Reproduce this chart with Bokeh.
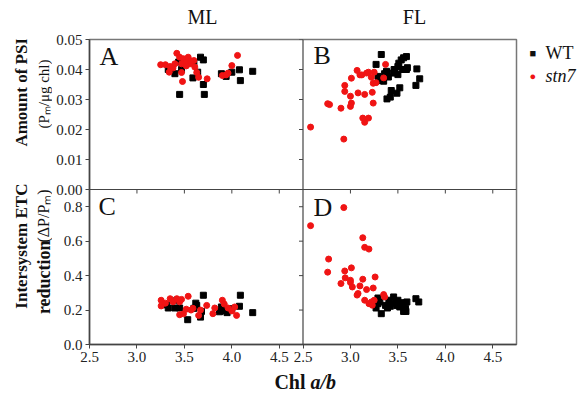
import math
from bokeh.plotting import figure
from bokeh.layouts import column, row
from bokeh.models import Range1d, LinearAxis, FixedTicker, Span, Label
from bokeh.embed import file_html
from bokeh.resources import INLINE

# ---------------- data ----------------
A_wt_chl = [3.33, 3.40, 3.45, 3.44, 3.48, 3.47, 3.59, 3.64, 3.60, 3.67, 3.70, 3.70, 3.71, 3.89, 3.94, 4.00, 4.08, 4.09, 4.22]
A_wt_psi = [0.0400, 0.0386, 0.0317, 0.0425, 0.0418, 0.0400, 0.0372, 0.0391, 0.0424, 0.0441, 0.0432, 0.0350, 0.0317, 0.0386, 0.0377, 0.0391, 0.0399, 0.0363, 0.0394]
A_st_chl = [3.25, 3.30, 3.35, 3.34, 3.42, 3.45, 3.40, 3.47, 3.49, 3.52, 3.54, 3.56, 3.48, 3.47, 3.60, 3.61, 3.63, 3.65, 3.74, 3.90, 3.94, 3.96, 4.00, 4.06, 3.38, 3.57, 3.52]
A_st_psi = [0.0416, 0.0416, 0.0410, 0.0391, 0.0454, 0.0441, 0.0419, 0.0419, 0.0436, 0.0424, 0.0441, 0.0419, 0.0360, 0.0390, 0.0430, 0.0408, 0.0390, 0.0374, 0.0369, 0.0380, 0.0382, 0.0388, 0.0413, 0.0447, 0.0405, 0.0428, 0.0412]

B_wt_chl = [3.325, 3.27, 3.29, 3.31, 3.35, 3.36, 3.38, 3.385, 3.42, 3.43, 3.45, 3.46, 3.49, 3.50, 3.52, 3.50, 3.51, 3.535, 3.55, 3.56, 3.59, 3.59, 3.60, 3.69, 3.70, 3.73, 3.40, 3.47]
B_wt_psi = [0.0450, 0.0417, 0.0377, 0.0363, 0.0361, 0.0386, 0.0394, 0.0302, 0.0308, 0.0330, 0.0388, 0.0400, 0.0321, 0.0383, 0.0339, 0.0410, 0.0421, 0.0432, 0.0400, 0.0439, 0.0443, 0.0400, 0.0406, 0.0347, 0.0402, 0.0369, 0.0375, 0.0395]
B_st_chl = [2.58, 2.76, 2.78, 2.90, 2.93, 2.94, 2.94, 3.00, 3.01, 3.00, 3.01, 3.07, 3.08, 3.10, 3.12, 3.13, 3.15, 3.15, 3.17, 3.19, 3.19, 3.22, 3.23, 3.24, 3.24, 3.25, 3.27, 3.35, 3.37]
B_st_psi = [0.0208, 0.0286, 0.0283, 0.0271, 0.0168, 0.0347, 0.0327, 0.0311, 0.0288, 0.0277, 0.0371, 0.0397, 0.0322, 0.0382, 0.0382, 0.0238, 0.0224, 0.0317, 0.0388, 0.0238, 0.0391, 0.0374, 0.0324, 0.0288, 0.0354, 0.0391, 0.0356, 0.0372, 0.0417]

C_wt_chl = [3.70, 4.09, 4.22, 4.08, 4.00, 3.95, 3.92, 3.89, 3.87, 3.535, 3.67, 3.68, 3.63, 3.60, 3.62, 3.42, 3.40, 3.33, 3.31, 3.45]
C_wt_etc = [0.286, 0.286, 0.185, 0.222, 0.208, 0.185, 0.195, 0.218, 0.190, 0.144, 0.159, 0.192, 0.227, 0.210, 0.240, 0.257, 0.212, 0.212, 0.230, 0.212]
C_st_chl = [3.255, 3.255, 3.30, 3.35, 3.38, 3.42, 3.45, 3.47, 3.54, 3.45, 3.49, 3.52, 3.57, 3.59, 3.65, 3.67, 3.735, 3.80, 3.82, 3.90, 3.92, 3.96, 4.00, 4.05, 4.03]
C_st_etc = [0.257, 0.224, 0.240, 0.266, 0.248, 0.266, 0.248, 0.262, 0.280, 0.173, 0.178, 0.205, 0.200, 0.210, 0.169, 0.200, 0.227, 0.179, 0.212, 0.257, 0.235, 0.212, 0.195, 0.169, 0.218]

D_wt_chl = [3.29, 3.29, 3.27, 3.325, 3.31, 3.37, 3.405, 3.42, 3.455, 3.45, 3.48, 3.49, 3.50, 3.52, 3.54, 3.555, 3.56, 3.58, 3.595, 3.69, 3.72, 3.39, 3.585]
D_wt_etc = [0.270, 0.237, 0.212, 0.179, 0.247, 0.227, 0.257, 0.222, 0.276, 0.240, 0.247, 0.226, 0.257, 0.218, 0.243, 0.232, 0.192, 0.210, 0.247, 0.266, 0.247, 0.212, 0.192]
D_st_chl = [2.58, 2.93, 3.13, 3.15, 3.195, 2.77, 2.76, 2.94, 3.01, 2.945, 2.90, 3.00, 3.00, 3.02, 3.13, 3.26, 3.10, 3.17, 3.24, 3.08, 3.07, 3.15, 3.195, 3.22, 3.23, 3.35, 3.36, 3.25]
D_st_etc = [0.690, 0.795, 0.620, 0.564, 0.554, 0.496, 0.420, 0.427, 0.445, 0.387, 0.354, 0.373, 0.360, 0.334, 0.379, 0.392, 0.340, 0.319, 0.328, 0.296, 0.287, 0.257, 0.237, 0.247, 0.228, 0.290, 0.276, 0.257]

chl_ticks = [2.5, 3.0, 3.5, 4.0, 4.5]
etc_ticks = [0.0, 0.2, 0.4, 0.6, 0.8]
psi_ticks = [0.00, 0.01, 0.02, 0.03, 0.04, 0.05]
col_titles = ["ML", "FL"]
panel_letters = ["A", "B", "C", "D"]
series_names = ["WT", "stn7"]

# ---------------- geometry (page pixels) ----------------
W, H = 578, 392
TOP_H = 31
LEFT_W = 52
RIGHT_W = 60
FL_, FR_ = 89, 516
FT_, FB_ = 39, 344
MAIN_BOTTOM = 372
DIV_Y = 189
CHL_SPAN = 2.25
X0 = 2.5
ETC_DIV = 0.9
PSI_MAX = 0.05
TICK_PX = 4
bot_h = FB_ - DIV_Y
top_h = DIV_Y - FT_
MID_H = MAIN_BOTTOM - TOP_H

x_end = X0 + 2 * CHL_SPAN
y_end = ETC_DIV * (FB_ - FT_) / bot_h
psi_start = -PSI_MAX * bot_h / top_h
px_per_chl = (FR_ - FL_) / (2 * CHL_SPAN)
px_per_etc = bot_h / ETC_DIV

def px_x(px):
    return X0 + (px - FL_) / px_per_chl

def px_y(py):
    return (FB_ - py) / px_per_etc

SERIF = "Liberation Serif"
RED = "#f01414"
INK = "#111111"
AXIS = "#444444"

# ---------------- main panel figure ----------------
p = figure(frame_width=FR_ - FL_, frame_height=FB_ - FT_,
           min_border_left=FL_ - LEFT_W, min_border_right=W - RIGHT_W - FR_,
           min_border_top=FT_ - TOP_H, min_border_bottom=MAIN_BOTTOM - FB_,
           x_range=Range1d(X0, x_end), y_range=Range1d(0, y_end),
           x_axis_type=None, y_axis_type=None,
           output_backend="svg", toolbar_location=None)
p.extra_x_ranges = {"fl": Range1d(X0 - CHL_SPAN, x_end - CHL_SPAN)}
p.extra_y_ranges = {"psi": Range1d(psi_start, PSI_MAX)}
p.outline_line_color = "#777777"
p.outline_line_width = 1.5

x_tick_pos = [t for t in chl_ticks] + [t + CHL_SPAN for t in chl_ticks]
x_over = {pos: f"{t:.1f}" for pos, t in zip(x_tick_pos, chl_ticks + chl_ticks)}
xax = LinearAxis(ticker=FixedTicker(ticks=x_tick_pos), major_label_overrides=x_over)
psi_pos = [ETC_DIV + v / PSI_MAX * top_h / bot_h * ETC_DIV for v in psi_ticks]
y_tick_pos = etc_ticks + psi_pos
y_over = {pos: f"{v:.1f}" for pos, v in zip(etc_ticks, etc_ticks)}
y_over.update({pos: f"{v:.2f}" for pos, v in zip(psi_pos, psi_ticks)})
yax = LinearAxis(ticker=FixedTicker(ticks=y_tick_pos), major_label_overrides=y_over)
for ax in (xax, yax):
    ax.major_tick_in = 0
    ax.major_tick_out = TICK_PX
    ax.minor_tick_in = 0
    ax.minor_tick_out = 0
    ax.axis_line_color = AXIS
    ax.axis_line_width = 1.5
    ax.major_tick_line_color = AXIS
    ax.major_label_text_font = SERIF
    ax.major_label_text_font_size = "15px"
    ax.major_label_text_color = "#222222"
    ax.major_label_standoff = 3
p.add_layout(xax, "below")
p.add_layout(yax, "left")

# panel dividers
X_DIV = X0 + CHL_SPAN
p.add_layout(Span(location=X_DIV, dimension="height", line_color=AXIS, line_width=1.2))
p.add_layout(Span(location=ETC_DIV, dimension="width", line_color=AXIS, line_width=1.2))

# tick marks of the inner panel edges (upper panels' bottom ticks, right panels' left ticks)
inner_x = [t for t in x_tick_pos if t not in (X0, X_DIV)]
p.segment(x0=inner_x, y0=[ETC_DIV] * len(inner_x), x1=inner_x,
          y1=[ETC_DIV - TICK_PX / px_per_etc] * len(inner_x), line_color=AXIS, line_width=1)
inner_y = [t for t in y_tick_pos if t not in (0.0, ETC_DIV)]
p.segment(x0=[X_DIV] * len(inner_y), y0=inner_y, x1=[X_DIV - TICK_PX / px_per_chl] * len(inner_y),
          y1=inner_y, line_color=AXIS, line_width=1)

kw_sq = dict(marker="square", size=6, fill_color="black", line_color="black")
kw_ci = dict(marker="circle", size=6, fill_color=RED, line_color=RED)
p.scatter(A_wt_chl, A_wt_psi, y_range_name="psi", **kw_sq)
p.scatter(A_st_chl, A_st_psi, y_range_name="psi", **kw_ci)
p.scatter(B_wt_chl, B_wt_psi, x_range_name="fl", y_range_name="psi", **kw_sq)
p.scatter(B_st_chl, B_st_psi, x_range_name="fl", y_range_name="psi", **kw_ci)
p.scatter(C_wt_chl, C_wt_etc, **kw_sq)
p.scatter(C_st_chl, C_st_etc, **kw_ci)
p.scatter(D_wt_chl, D_wt_etc, x_range_name="fl", **kw_sq)
p.scatter(D_st_chl, D_st_etc, x_range_name="fl", **kw_ci)

for letter, (lx, ly) in zip(panel_letters, [(99, 56), (313, 55), (98, 206), (313, 207)]):
    p.add_layout(Label(x=px_x(lx), y=px_y(ly), text=letter, text_font=SERIF,
                       text_font_size="26px", text_baseline="middle", text_color=INK))

# ---------------- text strips (each frame covers the whole strip) ----------------
def strip(w, h):
    f = figure(width=w, height=h, min_border=0, x_range=Range1d(0, w), y_range=Range1d(h, 0),
               x_axis_type=None, y_axis_type=None, output_backend="svg", toolbar_location=None)
    f.outline_line_color = None
    return f

def lab(f, x0, y0, text, x, y, size, align="left", style="normal", angle=0.0, color=INK, font=SERIF):
    f.add_layout(Label(x=x - x0, y=y - y0, text=text, text_font=font, text_font_size=size,
                       text_align=align, text_baseline="middle", text_font_style=style,
                       angle=angle, text_color=color))

top = strip(W, TOP_H)
lab(top, 0, 0, col_titles[0], 202, 16, "20px", align="center")
lab(top, 0, 0, col_titles[1], 414, 16, "20px", align="center")

R = math.pi / 2
left = strip(LEFT_W, MID_H)
lab(left, 0, TOP_H, "Amount of PSI", 21, 90, "17px", align="center", style="bold", angle=R)
lab(left, 0, TOP_H, "(P\u2098/\u03bcg chl)", 43, 92, "15px", align="center", angle=R)
lab(left, 0, TOP_H, "Intersystem ETC", 21, 262, "17px", align="center", style="bold", angle=R)
lab(left, 0, TOP_H, "reduction", 43, 338, "18px", align="left", style="bold", angle=R)
lab(left, 0, TOP_H, "(\u0394P/P\u2098)", 43, 258, "16px", align="left", angle=R)

right = strip(RIGHT_W, MID_H)
rx0 = W - RIGHT_W
lab(right, rx0, TOP_H, "\u25a0", 529, 46, "11px", font="Liberation Sans")
lab(right, rx0, TOP_H, series_names[0], 545, 46, "18px")
lab(right, rx0, TOP_H, "\u25cf", 529, 72, "11px", font="Liberation Sans", color=RED)
lab(right, rx0, TOP_H, series_names[1], 545, 72, "18px", style="italic")

bottom = strip(W, H - MAIN_BOTTOM)
lab(bottom, 0, MAIN_BOTTOM, "Chl", 305, 381, "20px", align="right", style="bold")
lab(bottom, 0, MAIN_BOTTOM, "a/b", 310, 381, "20px", align="left", style="bold italic")

layout = column(top, row(left, p, right), bottom)
open("out.html", "w").write(file_html(layout, INLINE))
